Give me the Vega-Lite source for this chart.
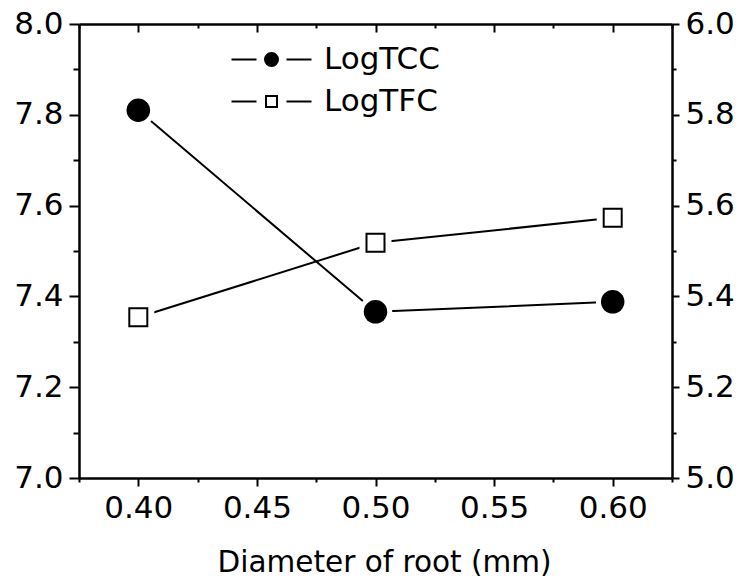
{
  "$schema": "https://vega.github.io/schema/vega-lite/v6.json",
  "width": 593,
  "height": 454,
  "autosize": "none",
  "padding": {"left": 79, "top": 24, "right": 70, "bottom": 104},
  "background": "white",
  "config": {
    "view": {"stroke": null},
    "font": "DejaVu Sans",
    "axis": {
      "grid": false,
      "domainColor": "black",
      "domainWidth": 2.5,
      "tickColor": "black",
      "tickWidth": 2,
      "labelColor": "black",
      "labelFont": "DejaVu Sans",
      "labelFontSize": 31,
      "titleColor": "black",
      "titleFont": "DejaVu Sans",
      "titleFontWeight": "normal",
      "labelFlush": false,
      "labelOverlap": false
    },
    "legend": {
      "labelFont": "DejaVu Sans",
      "labelFontSize": 31,
      "labelColor": "black"
    }
  },
  "data": {
    "values": [
      {"diameter": 0.40, "series": "LogTCC", "value": 7.81},
      {"diameter": 0.50, "series": "LogTCC", "value": 7.366},
      {"diameter": 0.60, "series": "LogTCC", "value": 7.388},
      {"diameter": 0.40, "series": "LogTFC", "value": 5.354},
      {"diameter": 0.50, "series": "LogTFC", "value": 5.518},
      {"diameter": 0.60, "series": "LogTFC", "value": 5.573}
    ]
  },
  "layer": [
    {
      "transform": [{"filter": "datum.series === 'LogTCC'"}],
      "encoding": {
        "x": {
          "field": "diameter",
          "type": "quantitative",
          "scale": {"domain": [0.375, 0.625], "nice": false, "zero": false},
          "axis": {
            "orient": "bottom",
            "values": [0.375, 0.4, 0.425, 0.45, 0.475, 0.5, 0.525, 0.55, 0.575, 0.6, 0.625],
            "labelExpr": "round(datum.value * 1000) % 50 == 0 ? format(datum.value, '.2f') : ''",
            "tickSize": {"condition": {"test": "round(datum.value * 1000) % 50 != 0", "value": 4}, "value": 8},
            "labelPadding": 7,
            "title": "Diameter of root (mm)",
            "titleFontSize": 29.5,
            "titleX": 305,
            "titleY": 93,
            "titleBaseline": "alphabetic"
          }
        },
        "y": {
          "field": "value",
          "type": "quantitative",
          "scale": {"domain": [7, 8], "nice": false, "zero": false},
          "axis": {
            "orient": "left",
            "values": [7, 7.1, 7.2, 7.3, 7.4, 7.5, 7.6, 7.7, 7.8, 7.9, 8],
            "labelExpr": "round(datum.value * 10) % 2 == 0 ? format(datum.value, '.1f') : ''",
            "tickSize": {"condition": {"test": "round(datum.value * 10) % 2 == 1", "value": 6}, "value": 10},
            "labelPadding": 6,
            "title": null
          }
        }
      },
      "layer": [
        {"mark": {"type": "line", "color": "black", "strokeWidth": 2}},
        {"mark": {"type": "point", "shape": "circle", "filled": true, "color": "white", "size": 1120, "opacity": 1}},
        {"mark": {"type": "point", "shape": "circle", "filled": true, "color": "black", "size": 552, "opacity": 1}},
        {
          "mark": {"type": "point", "filled": true, "strokeWidth": 2, "opacity": 0},
          "encoding": {
            "shape": {
              "field": "series",
              "type": "nominal",
              "scale": {
                "domain": ["LogTCC", "LogTFC"],
                "range": [
                  "M-4,0H-1.5M1.5,0H4M0.65,0A0.65,0.65,0,1,1,-0.65,0A0.65,0.65,0,1,1,0.65,0Z",
                  "M-4,0H-1.5M1.5,0H4M-0.55,-0.55H0.55V0.55H-0.55Z"
                ]
              },
              "legend": {
                "title": null,
                "orient": "none",
                "legendX": 177,
                "legendY": 20,
                "padding": 0,
                "symbolSize": 400,
                "symbolOpacity": 1,
                "symbolStrokeWidth": 2,
                "labelOffset": 37,
                "rowPadding": 10
              }
            },
            "fill": {
              "field": "series",
              "type": "nominal",
              "scale": {"domain": ["LogTCC", "LogTFC"], "range": ["black", "white"]},
              "legend": {
                "title": null,
                "orient": "none",
                "legendX": 177,
                "legendY": 20,
                "padding": 0,
                "symbolSize": 400,
                "symbolOpacity": 1,
                "symbolStrokeWidth": 2,
                "labelOffset": 37,
                "rowPadding": 10
              }
            },
            "stroke": {
              "field": "series",
              "type": "nominal",
              "scale": {"domain": ["LogTCC", "LogTFC"], "range": ["black", "black"]},
              "legend": {
                "title": null,
                "orient": "none",
                "legendX": 177,
                "legendY": 20,
                "padding": 0,
                "symbolSize": 400,
                "symbolOpacity": 1,
                "symbolStrokeWidth": 2,
                "labelOffset": 37,
                "rowPadding": 10
              }
            }
          }
        }
      ]
    },
    {
      "transform": [{"filter": "datum.series === 'LogTFC'"}],
      "encoding": {
        "x": {
          "field": "diameter",
          "type": "quantitative",
          "scale": {"domain": [0.375, 0.625], "nice": false, "zero": false},
          "axis": {
            "orient": "top",
            "values": [0.375, 0.4, 0.425, 0.45, 0.475, 0.5, 0.525, 0.55, 0.575, 0.6, 0.625],
            "labels": false,
            "tickSize": {"condition": {"test": "round(datum.value * 1000) % 50 != 0", "value": -4}, "value": -8},
            "title": null
          }
        },
        "y": {
          "field": "value",
          "type": "quantitative",
          "scale": {"domain": [5, 6], "nice": false, "zero": false},
          "axis": {
            "orient": "right",
            "values": [5, 5.1, 5.2, 5.3, 5.4, 5.5, 5.6, 5.7, 5.8, 5.9, 6],
            "labelExpr": "round(datum.value * 10) % 2 == 0 ? format(datum.value, '.1f') : ''",
            "tickSize": {"condition": {"test": "round(datum.value * 10) % 2 == 1", "value": 4}, "value": 7},
            "labelPadding": 6,
            "title": null
          }
        }
      },
      "layer": [
        {"mark": {"type": "line", "color": "black", "strokeWidth": 2}},
        {"mark": {"type": "point", "shape": "square", "filled": true, "color": "white", "size": 1024, "opacity": 1}},
        {"mark": {"type": "point", "shape": "square", "filled": true, "fill": "white", "size": 324, "stroke": "black", "strokeWidth": 2, "opacity": 1}}
      ]
    }
  ],
  "resolve": {
    "scale": {"y": "independent"},
    "axis": {"x": "independent", "y": "independent"}
  }
}
